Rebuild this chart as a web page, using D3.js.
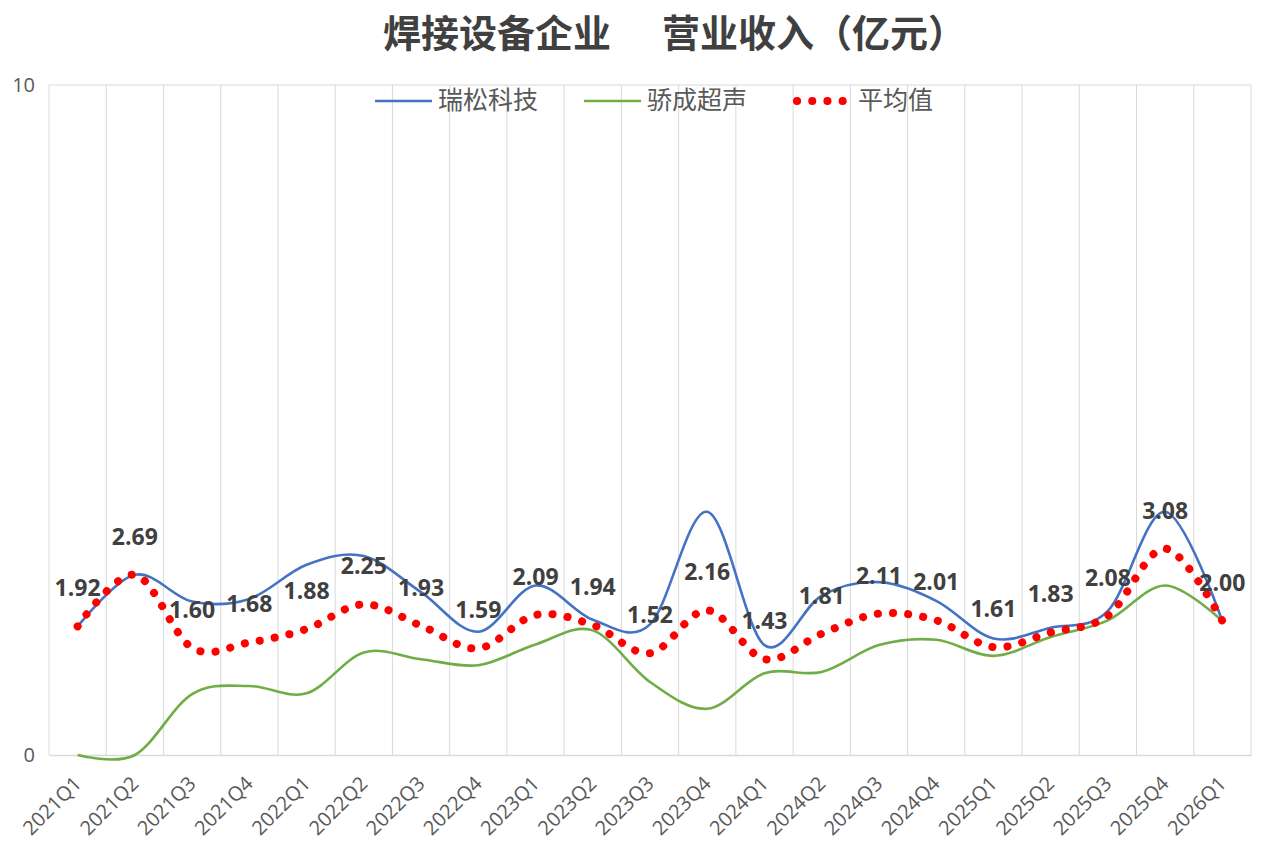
<!DOCTYPE html>
<html lang="zh">
<head>
    <meta charset="UTF-8">
    <title>焊接设备企业 营业收入</title>
    <script src="https://d3js.org/d3.v7.min.js"></script>
    <style>
        body { margin: 0; background: #fff; }
        svg { display: block; }
    </style>
</head>
<body>
    <script>
        const categories = ["2021Q1", "2021Q2", "2021Q3", "2021Q4", "2022Q1", "2022Q2", "2022Q3", "2022Q4",
                            "2023Q1", "2023Q2", "2023Q3", "2023Q4", "2024Q1", "2024Q2", "2024Q3", "2024Q4",
                            "2025Q1", "2025Q2", "2025Q3", "2025Q4", "2026Q1"];
        const ruisong = [1.92, 2.69, 2.29, 2.33, 2.84, 2.97, 2.43, 1.84, 2.53, 2.02, 1.95, 3.63,
                         1.64, 2.38, 2.58, 2.30, 1.74, 1.90, 2.15, 3.63, 2.00];
        const jiaocheng = [0, 0, 0.91, 1.03, 0.92, 1.53, 1.43, 1.34, 1.65, 1.86, 1.09, 0.69,
                           1.22, 1.24, 1.64, 1.72, 1.48, 1.76, 2.01, 2.53, 2.00];
        const average = [1.92, 2.69, 1.60, 1.68, 1.88, 2.25, 1.93, 1.59, 2.09, 1.94, 1.52, 2.16,
                         1.43, 1.81, 2.11, 2.01, 1.61, 1.83, 2.08, 3.08, 2.00];
        const seriesNames = ["瑞松科技", "骄成超声", "平均值"];
        const yTicks = [0, 10];

        const w = 1268;
        const h = 848;
        const plotLeft = 49, plotRight = 1251, plotTop = 85, plotBottom = 755;

        const svg = d3.select("body")
                      .append("svg")
                      .attr("width", w)
                      .attr("height", h);

        const xScale = d3.scaleBand()
                         .domain(categories)
                         .range([plotLeft, plotRight])
                         .padding(0);
        const bw = xScale.bandwidth();
        const cx = (c) => xScale(c) + bw / 2;

        const yScale = d3.scaleLinear()
                         .domain([0, 10])
                         .range([plotBottom, plotTop]);

        // gridlines
        const grid = svg.append("g");
        grid.selectAll("line.v")
            .data(categories.concat(["end"]))
            .enter()
            .append("line")
            .attr("x1", (d, i) => plotLeft + i * bw)
            .attr("x2", (d, i) => plotLeft + i * bw)
            .attr("y1", plotTop)
            .attr("y2", plotBottom)
            .attr("stroke", "#d9d9d9")
            .attr("stroke-width", 1);
        grid.append("line")
            .attr("x1", plotLeft).attr("x2", plotRight)
            .attr("y1", yScale(10)).attr("y2", yScale(10))
            .attr("stroke", "#d9d9d9").attr("stroke-width", 1);

        // axes
        const xAxis = d3.axisBottom(xScale).tickSize(0).tickPadding(0);
        const gx = svg.append("g")
                      .attr("transform", "translate(0," + plotBottom + ")")
                      .call(xAxis);
        gx.select(".domain").attr("stroke", "#d9d9d9").attr("stroke-width", 1.5);
        gx.selectAll("text")
          .attr("transform", "translate(5,30) rotate(-45)")
          .attr("text-anchor", "end")
          .attr("dy", 0)
          .attr("y", 0)
          .attr("font-family", "'Open Sans', sans-serif")
          .attr("font-size", 20)
          .attr("fill", "#595959");

        const yAxis = d3.axisLeft(yScale).tickValues(yTicks).tickSize(0).tickPadding(14);
        const gy = svg.append("g")
                      .attr("transform", "translate(" + plotLeft + ",0)")
                      .call(yAxis);
        gy.select(".domain").remove();
        gy.selectAll("text")
          .attr("font-family", "'Open Sans', sans-serif")
          .attr("font-size", 20)
          .attr("fill", "#595959");

        // series
        const line = d3.line()
                       .x((d, i) => cx(categories[i]))
                       .y((d) => yScale(d))
                       .curve(d3.curveCatmullRom.alpha(0));

        svg.append("path")
           .datum(ruisong)
           .attr("d", line)
           .attr("fill", "none")
           .attr("stroke", "#4472c4")
           .attr("stroke-width", 2.6);

        svg.append("path")
           .datum(jiaocheng)
           .attr("d", line)
           .attr("fill", "none")
           .attr("stroke", "#70ad47")
           .attr("stroke-width", 2.6);

        svg.append("path")
           .datum(average)
           .attr("d", line)
           .attr("fill", "none")
           .attr("stroke", "#ff0000")
           .attr("stroke-width", 8)
           .attr("stroke-linecap", "round")
           .attr("stroke-dasharray", "0.1 15.1");

        // data labels
        svg.selectAll("text.lbl")
           .data(average)
           .enter()
           .append("text")
           .attr("class", "lbl")
           .attr("x", (d, i) => cx(categories[i]))
           .attr("y", (d) => yScale(d) - 30)
           .attr("text-anchor", "middle")
           .attr("font-family", "'Open Sans', sans-serif")
           .attr("font-weight", "bold")
           .attr("font-size", 23)
           .attr("fill", "#404040")
           .text((d) => d.toFixed(2));

        // title
        const title = svg.append("text")
                         .attr("x", 383)
                         .attr("y", 47)
                         .attr("font-family", "'Noto Sans CJK SC', sans-serif")
                         .attr("font-weight", "bold")
                         .attr("font-size", 38)
                         .attr("fill", "#404040");
        title.append("tspan").text("焊接设备企业");
        title.append("tspan").attr("x", 662).text("营业收入（亿元）");

        // legend
        const legend = svg.append("g");
        const lx = [375, 584, 793];
        const styles = [
            { stroke: "#4472c4", width: 2.6, cap: "butt", dash: null },
            { stroke: "#70ad47", width: 2.6, cap: "butt", dash: null },
            { stroke: "#ff0000", width: 8, cap: "round", dash: "0.1 15.1" }
        ];
        seriesNames.forEach((name, i) => {
            const s = styles[i];
            legend.append("line")
                  .attr("x1", i === 2 ? lx[i] + 4 : lx[i])
                  .attr("x2", lx[i] + 57)
                  .attr("y1", 101).attr("y2", 101)
                  .attr("stroke", s.stroke)
                  .attr("stroke-width", s.width)
                  .attr("stroke-linecap", s.cap)
                  .attr("stroke-dasharray", s.dash);
            legend.append("text")
                  .attr("x", lx[i] + (i === 2 ? 65 : 63))
                  .attr("y", 109)
                  .attr("font-family", "'Noto Sans CJK SC', sans-serif")
                  .attr("font-size", 25)
                  .attr("fill", "#595959")
                  .text(name);
        });
    </script>
</body>
</html>
